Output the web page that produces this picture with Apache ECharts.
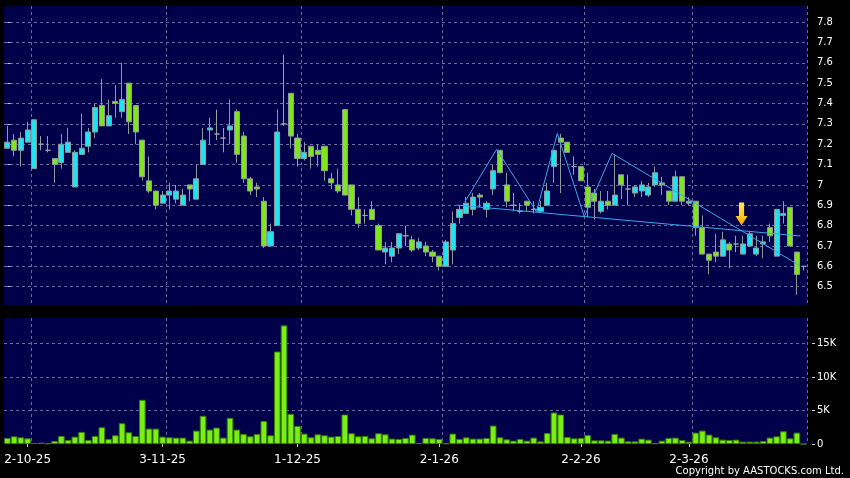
<!DOCTYPE html>
<html><head><meta charset="utf-8">
<script src="https://cdn.jsdelivr.net/npm/echarts@6/dist/echarts.min.js"></script>
<style>html,body{margin:0;padding:0;background:#000}#c{width:850px;height:478px}</style>
</head><body><div id="c"></div>
<script>
const dates = [
'26-9-25','29-9-25','30-9-25',
'2-10-25','3-10-25','6-10-25','8-10-25','9-10-25','10-10-25','13-10-25','14-10-25','15-10-25','16-10-25','17-10-25','20-10-25','21-10-25','22-10-25','23-10-25','24-10-25','27-10-25','28-10-25','30-10-25','31-10-25',
'3-11-25','4-11-25','5-11-25','6-11-25','7-11-25','10-11-25','11-11-25','12-11-25','13-11-25','14-11-25','17-11-25','18-11-25','19-11-25','20-11-25','21-11-25','24-11-25','25-11-25','26-11-25','27-11-25','28-11-25',
'1-12-25','2-12-25','3-12-25','4-12-25','5-12-25','8-12-25','9-12-25','10-12-25','11-12-25','12-12-25','15-12-25','16-12-25','17-12-25','18-12-25','19-12-25','22-12-25','23-12-25','24-12-25','29-12-25','30-12-25','31-12-25',
'2-1-26','5-1-26','6-1-26','7-1-26','8-1-26','9-1-26','12-1-26','13-1-26','14-1-26','15-1-26','16-1-26','19-1-26','20-1-26','21-1-26','22-1-26','23-1-26','26-1-26','27-1-26','28-1-26','29-1-26','30-1-26',
'2-2-26','3-2-26','4-2-26','5-2-26','6-2-26','9-2-26','10-2-26','11-2-26','12-2-26','13-2-26','20-2-26','23-2-26','24-2-26','25-2-26','26-2-26','27-2-26',
'2-3-26','3-3-26','4-3-26','5-3-26','6-3-26','9-3-26','10-3-26','11-3-26','12-3-26','13-3-26','16-3-26','17-3-26','18-3-26','19-3-26','20-3-26','23-3-26','24-3-26','25-3-26'
];
// [open, close, low, high]
const ohlc = [
[7.18,7.21,7.18,7.29],[7.22,7.17,7.14,7.25],[7.17,7.23,7.09,7.26],[7.21,7.27,7.21,7.31],[7.08,7.32,7.08,7.32],
[7.20,7.20,7.17,7.24],[7.17,7.17,7.16,7.24],[7.13,7.10,7.01,7.13],[7.11,7.20,7.08,7.25],[7.16,7.21,7.16,7.28],
[6.99,7.16,6.99,7.17],[7.15,7.18,7.15,7.35],[7.19,7.26,7.16,7.28],[7.26,7.38,7.23,7.40],[7.39,7.29,7.29,7.52],
[7.29,7.34,7.29,7.42],[7.41,7.40,7.33,7.49],[7.36,7.42,7.33,7.60],[7.50,7.31,7.25,7.50],[7.39,7.26,7.20,7.39],
[7.22,7.04,7.02,7.22],[7.02,6.97,6.96,7.14],[6.97,6.90,6.88,6.97],[6.91,6.95,6.91,6.97],[6.95,6.97,6.88,7.01],
[6.93,6.97,6.91,7.00],[6.90,6.95,6.90,6.98],[7.00,6.98,6.92,7.00],[6.93,7.03,6.93,7.10],[7.10,7.22,7.10,7.28],
[7.27,7.28,7.20,7.33],[7.25,7.25,7.22,7.37],[7.23,7.23,7.16,7.28],[7.27,7.29,7.20,7.42],[7.36,7.15,7.11,7.37],
[7.24,7.03,7.01,7.26],[7.03,6.97,6.95,7.04],[6.99,6.98,6.94,7.01],[6.92,6.70,6.69,6.94],[6.70,6.77,6.70,6.81],
[6.80,7.26,6.80,7.37],[7.30,7.30,7.29,7.64],[7.45,7.24,7.18,7.45],[7.23,7.13,7.09,7.25],[7.13,7.16,7.12,7.21],
[7.19,7.14,7.08,7.19],[7.17,7.15,7.09,7.20],[7.19,7.07,7.02,7.19],[7.03,7.01,6.98,7.06],[7.00,6.97,6.96,7.08],
[7.37,6.95,6.95,7.37],[7.00,6.88,6.85,7.00],[6.88,6.81,6.79,6.94],[6.85,6.85,6.81,6.88],[6.88,6.83,6.83,6.92],
[6.80,6.68,6.68,6.81],[6.67,6.69,6.61,6.72],[6.65,6.69,6.62,6.72],[6.69,6.76,6.66,6.76],[6.75,6.75,6.70,6.80],
[6.73,6.68,6.67,6.75],[6.69,6.72,6.68,6.74],[6.70,6.67,6.65,6.72],[6.67,6.65,6.62,6.68],[6.65,6.60,6.58,6.65],
[6.60,6.72,6.60,6.73],[6.68,6.81,6.61,6.87],[6.84,6.88,6.81,6.90],[6.86,6.91,6.86,6.94],[6.88,6.94,6.85,6.96],
[6.95,6.94,6.89,6.96],[6.88,6.91,6.84,6.92],[6.98,7.07,6.95,7.10],[7.17,7.06,7.06,7.17],[7.00,6.92,6.89,7.06],
[6.90,6.90,6.87,6.96],[6.87,6.87,6.86,6.91],[6.92,6.90,6.87,6.92],[6.88,6.88,6.86,6.92],[6.87,6.89,6.87,6.92],
[6.90,6.97,6.90,7.01],[7.09,7.17,7.01,7.17],[7.23,7.21,6.96,7.25],[7.21,7.16,7.16,7.21],[7.09,7.09,7.05,7.14],
[7.09,7.02,7.02,7.09],[6.99,6.89,6.84,7.06],[6.96,6.92,6.83,6.98],[6.87,6.92,6.86,6.97],[6.92,6.90,6.88,6.97],
[6.90,6.95,6.90,7.15],[7.05,7.00,6.93,7.05],[6.98,6.98,6.90,7.05],[6.96,6.99,6.94,7.00],[6.97,7.00,6.94,7.02],
[6.95,6.99,6.94,7.01],[7.00,7.06,6.99,7.09],[7.01,7.00,6.95,7.04],[6.97,6.92,6.90,6.97],[6.92,7.04,6.92,7.07],
[7.04,6.92,6.90,7.04],[6.91,6.92,6.90,6.94],[6.92,6.79,6.75,6.92],[6.79,6.66,6.66,6.85],[6.66,6.63,6.56,6.66],
[6.67,6.65,6.62,6.76],[6.65,6.73,6.65,6.77],[6.71,6.68,6.59,6.72],[6.71,6.71,6.67,6.75],[6.66,6.71,6.66,6.75],
[6.70,6.76,6.70,6.77],[6.66,6.69,6.65,6.75],[6.71,6.72,6.64,6.75],[6.79,6.75,6.72,6.81],[6.65,6.88,6.65,6.88],
[6.85,6.86,6.81,6.92],[6.89,6.70,6.70,6.89],[6.67,6.56,6.46,6.67],[6.60,6.60,6.58,6.60]
];
const volumes = [
900,1150,1000,850,150,200,100,450,1200,600,
1100,1800,600,1200,2500,750,1300,3100,1750,1200,
6600,2300,2300,1100,1000,950,950,500,2000,4200,
2150,2450,950,3900,2150,1500,1150,1500,3450,1300,
13800,17700,4500,2700,1550,1000,1450,1300,1100,1200,
4400,1600,1150,1200,850,1600,1450,800,750,900,
1400,150,900,850,750,100,1550,750,1000,800,
800,900,2750,1000,700,500,750,500,950,400,
1650,4700,4400,1050,850,900,1350,550,550,500,
1500,950,400,400,800,650,100,500,900,950,
600,350,1700,2000,1400,1000,650,600,650,350,
350,350,450,950,1150,1900,850,1700,0
];
const labelIdx = [3,23,43,64,85,101];
const gridIdx = [4,24,44,65,86,102];
const volTickLabels = {0:'0',5000:'5K',10000:'10K',15000:'15K'};
// pattern overlay: [category position, price]
const zigzag = [[67.8,6.917],[72.5,7.175],[78.4,6.868],[81.5,7.253],[85.5,6.844],[89.6,7.155],[117.5,6.602]];
const neckline = [[66.6,6.901],[117.5,6.749]];
const arrowPoint = [[108.8,6.857]];

const gridLine = {show:true, interval:(i)=>gridIdx.includes(i), lineStyle:{color:'#6c6c9c', type:[3,3], width:1}};
const chart = echarts.init(document.getElementById('c'), null, {renderer:'canvas'});
chart.setOption({
  backgroundColor:'#000',
  animation:false,
  grid:[
    {left:4, right:43, top:6, height:299, show:true, backgroundColor:'#00004a', borderWidth:0},
    {left:4, right:43, top:318, height:126, show:true, backgroundColor:'#00004a', borderWidth:0}
  ],
  xAxis:[
    {type:'category', gridIndex:0, data:dates, boundaryGap:true, axisLine:{show:false}, axisTick:{show:false}, axisLabel:{show:false}, splitLine:gridLine},
    {type:'category', gridIndex:1, data:dates, boundaryGap:true, offset:2, axisLine:{show:false},
     axisTick:{show:true, alignWithLabel:true, length:3, interval:(i)=>labelIdx.includes(i), lineStyle:{color:'#cccccc'}},
     axisLabel:{show:true, interval:(i)=>labelIdx.includes(i), color:'#ffffff', fontSize:12, fontFamily:'DejaVu Sans', margin:8},
     splitLine:gridLine},
    {type:'value', gridIndex:0, min:-0.5, max:118.5, show:false}
  ],
  yAxis:[
    {type:'value', gridIndex:0, position:'right', min:6.41, max:7.879, splitNumber:14, offset:5, scale:true,
     axisLine:{show:false}, axisTick:{show:true, length:3, lineStyle:{color:'#cccccc'}},
     axisLabel:{color:'#ffffff', fontSize:10, fontFamily:'DejaVu Sans', margin:5, showMinLabel:false, showMaxLabel:false},
     splitLine:{show:true, showMinLine:false, showMaxLine:false, lineStyle:{color:'#6c6c9c', type:[3,3], width:1}}},
    {type:'value', gridIndex:1, position:'right', min:0, max:18800, splitNumber:4, offset:5,
     axisLine:{show:false}, axisTick:{show:true, length:3, lineStyle:{color:'#cccccc'}},
     axisLabel:{color:'#ffffff', fontSize:10, fontFamily:'DejaVu Sans', margin:5, showMaxLabel:false,
       formatter:(v)=>volTickLabels[v] !== undefined ? volTickLabels[v] : ''},
     splitLine:{show:true, showMinLine:false, showMaxLine:false, lineStyle:{color:'#6c6c9c', type:[3,3], width:1}}}
  ],
  series:[
    {type:'candlestick', xAxisIndex:0, yAxisIndex:0, data:ohlc, barWidth:5.6,
     itemStyle:{color:'#1fe3ef', color0:'#7fe61c', borderColor:'#8f9a9a', borderColor0:'#8f9a9a', borderColorDoji:'#9aa2a2', borderWidth:1}},
    {type:'line', xAxisIndex:2, yAxisIndex:0, data:zigzag, symbol:'none', lineStyle:{color:'#3aa6ee', width:1}, z:5},
    {type:'line', xAxisIndex:2, yAxisIndex:0, data:neckline, symbol:'none', lineStyle:{color:'#3aa6ee', width:1}, z:5},
    {type:'scatter', xAxisIndex:2, yAxisIndex:0, data:arrowPoint, symbol:'path://M4,0 L10,0 L10,13 L14,13 L7,22 L0,13 L4,13 Z', symbolSize:[12,23],
     itemStyle:{opacity:1, color:{type:'linear',x:0,y:0,x2:0,y2:1,colorStops:[{offset:0,color:'#ffe45a'},{offset:0.6,color:'#ffca1e'},{offset:1,color:'#ffa200'}]}}, z:6},
    {type:'bar', xAxisIndex:1, yAxisIndex:1, data:volumes, barCategoryGap:'2%',
     itemStyle:{color:'#78f014', borderColor:'#3b7d08', borderWidth:1}}
  ],
  graphic:[
    {type:'text', right:6, bottom:2, style:{text:'Copyright by AASTOCKS.com Ltd.', fill:'#ffffff', font:'10px "DejaVu Sans"'}}
  ]
});
</script>
</body></html>
